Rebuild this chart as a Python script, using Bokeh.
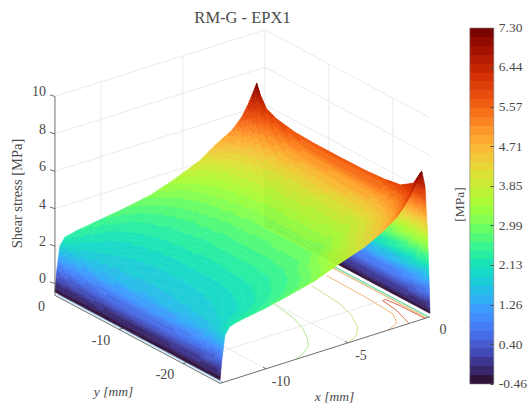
from bokeh.plotting import figure
from bokeh.models import Range1d, ColorBar, LinearColorMapper, FixedTicker, PrintfTickFormatter
from bokeh.palettes import Turbo256
from bokeh.embed import file_html
from bokeh.resources import INLINE
from bokeh.core.properties import value
import math

TITLE = "RM-G - EPX1"
Z_LABEL = "Shear stress [MPa]"
X_LABEL = "x [mm]"
Y_LABEL = "y [mm]"
CB_LABEL = "[MPa]"

x_nodes = [-12.8, -12.7, -12.5, -12.2, -11.5, -10, -8.5, -7, -5.5, -4, -3, -2, -1.4, -1, -0.7, -0.5, -0.3, -0.15, -0.05, 0]
y_nodes = [0, -0.5, -1.5, -3, -6, -9, -13, -17, -20, -22.5, -24.5, -25.3, -25.8]

z_y00 = [-.46, .60, 1.90, 2.30, 2.45, 2.65, 2.85, 3.10, 3.55, 4.10, 4.70, 5.20, 5.75, 6.35, 6.90, 7.30, 6.40, 4.00, 1.30, -.46]
z_y01 = [-.46, .52, 1.70, 2.10, 2.28, 2.48, 2.72, 3.02, 3.45, 3.95, 4.50, 5.00, 5.50, 6.00, 6.45, 6.80, 6.00, 3.80, 1.25, -.46]
z_y02 = [-.46, .45, 1.40, 1.85, 2.05, 2.25, 2.52, 2.85, 3.25, 3.72, 4.22, 4.70, 5.15, 5.55, 5.95, 6.20, 5.50, 3.50, 1.20, -.46]
z_y03 = [-.46, .38, 1.22, 1.65, 1.88, 2.08, 2.38, 2.70, 3.08, 3.55, 4.00, 4.45, 4.90, 5.25, 5.65, 5.95, 5.25, 3.35, 1.15, -.46]
z_y04 = [-.46, .33, 1.12, 1.52, 1.75, 1.97, 2.27, 2.58, 2.95, 3.40, 3.82, 4.27, 4.68, 5.02, 5.42, 5.75, 5.05, 3.25, 1.12, -.46]
z_y05 = [-.46, .30, 1.07, 1.47, 1.70, 1.92, 2.22, 2.52, 2.88, 3.33, 3.75, 4.18, 4.58, 4.93, 5.33, 5.70, 5.00, 3.20, 1.10, -.46]
z_y06 = [-.46, .30, 1.05, 1.45, 1.68, 1.90, 2.20, 2.50, 2.85, 3.30, 3.72, 4.15, 4.55, 4.90, 5.30, 5.70, 5.00, 3.20, 1.10, -.46]
z_y07 = [-.46, .31, 1.07, 1.47, 1.71, 1.93, 2.22, 2.51, 2.86, 3.30, 3.70, 4.12, 4.52, 4.88, 5.30, 5.72, 5.02, 3.22, 1.10, -.46]
z_y08 = [-.46, .33, 1.12, 1.53, 1.78, 2.00, 2.27, 2.55, 2.88, 3.28, 3.65, 4.05, 4.45, 4.82, 5.28, 5.80, 5.08, 3.25, 1.12, -.46]
z_y09 = [-.46, .37, 1.20, 1.63, 1.88, 2.12, 2.42, 2.72, 3.25, 3.70, 4.10, 4.40, 4.78, 5.10, 5.50, 5.95, 5.25, 3.35, 1.15, -.46]
z_y10 = [-.46, .42, 1.50, 1.95, 2.15, 2.38, 2.65, 2.93, 3.45, 3.98, 4.38, 4.80, 5.22, 5.60, 6.00, 6.40, 5.70, 3.60, 1.20, -.46]
z_y11 = [-.46, .48, 1.70, 2.12, 2.30, 2.52, 2.80, 3.10, 3.60, 4.08, 4.52, 5.02, 5.60, 6.10, 6.55, 6.95, 6.10, 3.85, 1.25, -.46]
z_y12 = [-.46, .50, 1.85, 2.25, 2.40, 2.62, 2.92, 3.25, 3.75, 4.20, 4.65, 5.25, 5.90, 6.50, 7.00, 7.30, 6.40, 4.00, 1.30, -.46]
z_table = [z_y00, z_y01, z_y02, z_y03, z_y04, z_y05, z_y06, z_y07, z_y08, z_y09, z_y10, z_y11, z_y12]

# floor contours: (x values, y values, colour)
c1_x = [-5.0, -5.3, -5.7, -6.2, -6.7, -7.5, -8.2]
c1_y = [-14, -18, -20.5, -22.5, -24, -25.2, -25.8]
c2_x = [-2.3, -2.5, -2.9, -3.55, -4.2, -5.0]
c2_y = [-13.2, -18, -21, -23.6, -25, -25.8]
c3_x = [-1.0, -1.05, -1.2, -1.7, -2.55]
c3_y = [-12.2, -18, -23.1, -25, -25.8]
c4_x = [-1.28, -1.1, -0.8, -0.65, -0.45, -0.35, -0.3]
c4_y = [-25.8, -24.6, -22.5, -20.1, -20, -22, -25.8]
c5_x = [-0.22, -0.22]
c5_y = [-11, -25.8]
c6_x = [-0.12, -0.12]
c6_y = [-11, -25.8]
c7_x = [-0.05, -0.05]
c7_y = [-11, -25.8]
c8_x = [-12.62, -12.62]
c8_y = [0, -25.8]
c9_x = [-12.7, -12.7]
c9_y = [0, -25.8]
contours = [
    (c1_x, c1_y, "#a8e48a"), (c2_x, c2_y, "#cfe07a"), (c3_x, c3_y, "#f2ae6a"),
    (c4_x, c4_y, "#dd5a35"), (c5_x, c5_y, "#f0a060"), (c6_x, c6_y, "#a8e48a"),
    (c7_x, c7_y, "#4fc9b0"), (c8_x, c8_y, "#7fb0ee"), (c9_x, c9_y, "#c4e8ee"),
]

z_ticks = [0, 2, 4, 6, 8, 10]
x_ticks = [-10, -5, 0]
y_ticks = [0, -10, -20]
cb_ticks = [-0.46, 0.40, 1.26, 2.13, 2.99, 3.85, 4.71, 5.57, 6.44, 7.30]
Z_LOW, Z_HIGH = -0.46, 7.30
Z_FLOOR, Z_TOP = -0.64, 10
X_MIN, X_MAX = -12.8, 0
Y_MIN, Y_MAX = -25.8, 0
LEVELS = 40

W, H = 530, 403
FONT = "Liberation Serif"
INK = "#4a4a4a"
GRID = "#e4e4e6"


def sx(x, y):
    return 429.5 + 16.4 * x - 6.4 * (y + 25.8)


def sy(x, y, z):
    return 316.3 - 5.2 * x - 3.41 * (y + 25.8) - 18.7 * (z - Z_FLOOR)


palette = [Turbo256[round(i * 255 / (LEVELS - 1))] for i in range(LEVELS)]


def colour(z):
    k = int((z - Z_LOW) / (Z_HIGH - Z_LOW) * LEVELS)
    return palette[max(0, min(LEVELS - 1, k))]


p = figure(width=W, height=H, x_range=Range1d(0, W), y_range=Range1d(H, 0),
           output_backend="svg", toolbar_location=None, min_border=0,
           x_axis_location=None, y_axis_location=None)
p.grid.visible = False
p.outline_line_color = None
p.background_fill_color = "white"
p.border_fill_color = None


def seg(x0, y0, z0, x1, y1, z1, color, width=0.8):
    p.line([sx(x0, y0), sx(x1, y1)], [sy(x0, y0, z0), sy(x1, y1, z1)],
           line_color=color, line_width=width)


# box grid
for z in z_ticks:
    seg(X_MIN, Y_MAX, z, X_MAX, Y_MAX, z, GRID)
    seg(X_MAX, Y_MAX, z, X_MAX, Y_MIN, z, GRID)
seg(X_MAX, Y_MAX, Z_FLOOR, X_MAX, Y_MAX, Z_TOP, GRID)
for x in x_ticks[:2]:
    seg(x, Y_MAX, Z_FLOOR, x, Y_MAX, Z_TOP, GRID)
    seg(x, Y_MIN, Z_FLOOR, x, Y_MAX, Z_FLOOR, GRID)
for y in y_ticks[1:]:
    seg(X_MAX, y, Z_FLOOR, X_MAX, y, Z_TOP, GRID)
    seg(X_MIN, y, Z_FLOOR, X_MAX, y, Z_FLOOR, GRID)

# floor contours
for cx, cy, col in contours:
    p.line([sx(a, b) for a, b in zip(cx, cy)], [sy(a, b, Z_FLOOR) for a, b in zip(cx, cy)],
           line_color=col, line_width=0.9)

# surface: each table cell is shaded as small flat facets, painted far to near
xs, ys, cols = [], [], []
for j in range(len(y_nodes) - 1):
    ny = max(1, math.ceil((y_nodes[j] - y_nodes[j + 1]) * 7 / 2.2))
    for sj in range(ny):
        v0, v1 = sj / ny, (sj + 1) / ny
        for i in range(len(x_nodes) - 2, -1, -1):
            dz = abs(z_table[j][i + 1] - z_table[j][i])
            nx = max(1, math.ceil((x_nodes[i + 1] - x_nodes[i]) * 16.4 / 2.6), math.ceil(dz * 18.7 / 3))
            for si in range(nx - 1, -1, -1):
                u0, u1 = si / nx, (si + 1) / nx
                px, py, pz = [], [], []
                for u, v in ((u0, v0), (u1, v0), (u1, v1), (u0, v1)):
                    xv = x_nodes[i] * (1 - u) + x_nodes[i + 1] * u
                    yv = y_nodes[j] * (1 - v) + y_nodes[j + 1] * v
                    zv = (z_table[j][i] * (1 - u) * (1 - v) + z_table[j][i + 1] * u * (1 - v)
                          + z_table[j + 1][i] * (1 - u) * v + z_table[j + 1][i + 1] * u * v)
                    px.append(sx(xv, yv))
                    py.append(sy(xv, yv, zv))
                    pz.append(zv)
                xs.append(px)
                ys.append(py)
                cols.append(colour(sum(pz) / 4))
p.patches(xs, ys, fill_color=cols, line_color=cols, line_width=0.5)

# axes
seg(X_MIN, Y_MAX, Z_FLOOR, X_MIN, Y_MAX, Z_TOP, INK)
seg(X_MIN, Y_MAX, Z_FLOOR, X_MIN, Y_MIN, Z_FLOOR, INK)
seg(X_MIN, Y_MIN, Z_FLOOR, X_MAX, Y_MIN, Z_FLOOR, INK)


def txt(px, py, s, size, align="center", angle=0.0, style="normal"):
    p.text([px], [py], text=[s], text_font=value(FONT), text_font_size=f"{size}px",
           text_color=INK, text_align=align, text_baseline="middle", angle=angle,
           text_font_style=style)


for z in z_ticks:
    a, b = sx(X_MIN, Y_MAX), sy(X_MIN, Y_MAX, z)
    p.line([a - 5, a], [b - 1.5, b], line_color=INK, line_width=0.8)
    txt(a - 9, b - 5, str(z), 14, "right")
for y in y_ticks:
    a, b = sx(X_MIN, y), sy(X_MIN, y, Z_FLOOR)
    if y != 0:
        p.line([a, a + 4], [b, b - 1.3], line_color=INK, line_width=0.8)
    txt(a - 13.5 if y == 0 else a - 18, b + 10.5, str(y), 14)
for x in x_ticks:
    a, b = sx(x, Y_MIN), sy(x, Y_MIN, Z_FLOOR)
    if x != 0:
        p.line([a, a - 3], [b, b - 1.8], line_color=INK, line_width=0.8)
    txt(a + 13 if x != -10 else a + 15, b + 12, str(x), 14)

txt(242, 17, TITLE, 16.5)
txt(334, 396, X_LABEL, 13.5, style="italic")
txt(113, 391, Y_LABEL, 13.5, style="italic")
txt(16, 193, Z_LABEL, 14.5, angle=math.pi / 2)
txt(459, 204, CB_LABEL, 13.5, angle=math.pi / 2)

mapper = LinearColorMapper(palette=palette, low=Z_LOW, high=Z_HIGH)
cb = ColorBar(color_mapper=mapper, width=24, height=356, padding=0, margin=0,
              location=(469.3, H - 383.5), ticker=FixedTicker(ticks=cb_ticks),
              formatter=PrintfTickFormatter(format="%.2f"), label_standoff=5,
              major_label_text_font=FONT, major_label_text_font_size="13.5px",
              major_label_text_color=INK, bar_line_color="#808080", bar_line_width=0.6,
              major_tick_line_color=INK, major_tick_in=3, major_tick_out=0,
              minor_tick_line_color=None, background_fill_color=None, border_line_color=None)
p.add_layout(cb)

open("out.html", "w").write(file_html(p, INLINE))
